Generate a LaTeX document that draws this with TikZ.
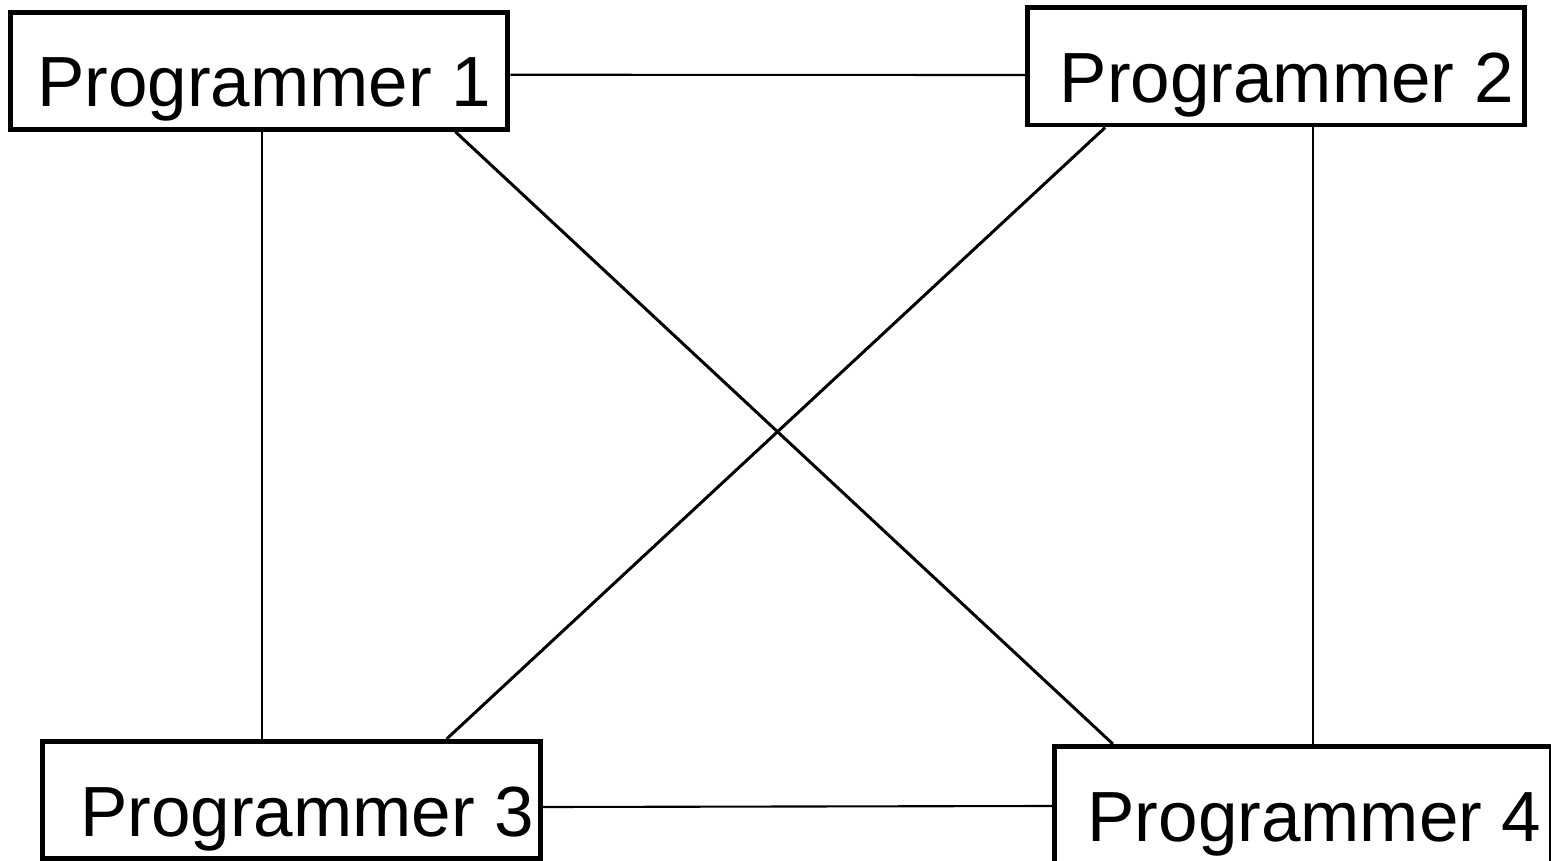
\documentclass[tikz,border=0pt]{standalone}
\usepackage{fontspec}
\setmainfont{Liberation Sans}
\usetikzlibrary{arrows}

\tikzset{
	prog/.style={draw, line width=1.4pt, minimum width=4.97cm, minimum height=1.17cm, inner sep=0pt, text height=0.72cm, text depth=0cm, font=\fontsize{20.2}{24}\selectfont},
	link/.style={line width=0.6pt},
	cross/.style={line width=0.85pt}
}

\begin{document}
\begin{tikzpicture}[x=0.01cm, y=-0.01cm]
		\useasboundingbox (0,0) rectangle (1551,861);
		\node[prog] (p1) at (259.25,70.75) {\hspace*{0.1cm}Programmer 1};
		\node[prog] (p2) at (1276.25,66.5) {\hspace*{0.21cm}Programmer 2};
		\node[prog] (p3) at (291.5,800)    {\hspace*{0.31cm}Programmer 3};
		\node[prog] (p4) at (1303,805)     {\hspace*{0.23cm}Programmer 4};
		
		\draw[link]  ([yshift=-0.04cm]p1.east) -- ([yshift=-0.085cm]p2.west);
		\draw[link]  ([yshift=-0.07cm]p3.east) -- ([yshift=-0.01cm]p4.west);
		\draw[link]  ([xshift=0.03cm]p1.south) -- ([xshift=0.03cm]p1.south |- p3.north);
		\draw[link]  ([xshift=0.37cm]p2.south) -- ([xshift=0.37cm]p2.south |- p4.north);
		\draw[cross] ([xshift=1.96cm]p1.south) -- ([xshift=-1.9cm]p4.north);
		\draw[cross] ([xshift=-1.71cm]p2.south) -- ([xshift=1.55cm]p3.north);
		\end{tikzpicture}
\end{document}
